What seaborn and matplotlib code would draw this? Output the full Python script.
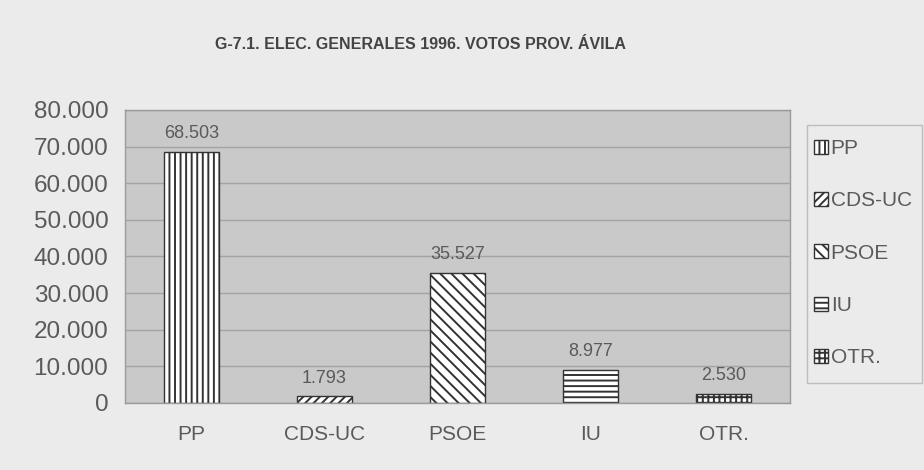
import matplotlib
matplotlib.use('Agg')
import matplotlib.pyplot as plt
from matplotlib.patches import Patch, Rectangle
from matplotlib.ticker import FuncFormatter
import seaborn as sns
import pandas as pd

# DATOS
partidos = ['PP', 'CDS-UC', 'PSOE', 'IU', 'OTR.']
votos = [68503, 1793, 35527, 8977, 2530]
tramas = ['|||', '////', '\\\\\\', '---', '+++']
marcas_y = [0, 10000, 20000, 30000, 40000, 50000, 60000, 70000, 80000]
titulo = 'G-7.1. ELEC. GENERALES 1996. VOTOS PROV. ÁVILA'


def miles(v, pos=None):
    return f'{int(v):,}'.replace(',', '.')


sns.set_style('white')
plt.rcParams['font.family'] = ['Liberation Sans', 'DejaVu Sans']
plt.rcParams['hatch.linewidth'] = 1.4
plt.rcParams['hatch.color'] = '#333333'

fondo = '#ebebeb'
gris_texto = '#5a5a5a'

fig = plt.figure(figsize=(9.24, 4.70), dpi=100, facecolor=fondo)
ax = fig.add_axes([0.1353, 0.1426, 0.7197, 0.6234])
ax.set_facecolor('#c9c9c9')

df = pd.DataFrame({'partido': partidos, 'votos': votos})
sns.barplot(data=df, x='partido', y='votos', color='white', saturation=1,
            edgecolor='#333333', linewidth=1, width=0.41, ax=ax)
for bar, h in zip(ax.patches, tramas):
    bar.set_hatch(h)
    bar.set_facecolor('white')

ax.bar_label(ax.containers[0], labels=[miles(v) for v in votos],
             padding=7, fontsize=13, color=gris_texto)

# EJES
ax.set_ylim(0, 80000)
ax.set_yticks(marcas_y)
ax.yaxis.set_major_formatter(FuncFormatter(miles))
ax.yaxis.grid(True, color='#a3a3a3', lw=1)
ax.set_axisbelow(True)
ax.tick_params(axis='y', length=0, pad=12, labelsize=17.5, labelcolor=gris_texto)
ax.tick_params(axis='x', length=0, pad=16, labelsize=15, labelcolor=gris_texto)
ax.set_xlabel('')
ax.set_ylabel('')
for s in ax.spines.values():
    s.set_visible(True)
    s.set_color('#9a9a9a')
    s.set_linewidth(1)

fig.text(0.455, 0.905, titulo, ha='center', va='center', fontsize=11.5,
         fontweight='bold', color='#444444')

# LEYENDA (marco dibujado aparte)
fig.patches.append(Rectangle((807 / 924, 1 - 383 / 470), 115 / 924, 258 / 470,
                             transform=fig.transFigure, facecolor=fondo,
                             edgecolor='#bdbdbd', lw=1, zorder=0))
handles = [Patch(facecolor='white', edgecolor='#333333', hatch=h, label=p)
           for p, h in zip(partidos, tramas)]
leg = fig.legend(handles=handles, loc='upper left',
                 bbox_to_anchor=(814 / 924, 1 - 139 / 470),
                 fontsize=15, handlelength=0.65, handleheight=0.65,
                 handletextpad=0.15, labelspacing=1.6, borderpad=0,
                 borderaxespad=0, frameon=False)
for t in leg.get_texts():
    t.set_color(gris_texto)

plt.savefig('out.png', dpi=100, facecolor=fondo)
